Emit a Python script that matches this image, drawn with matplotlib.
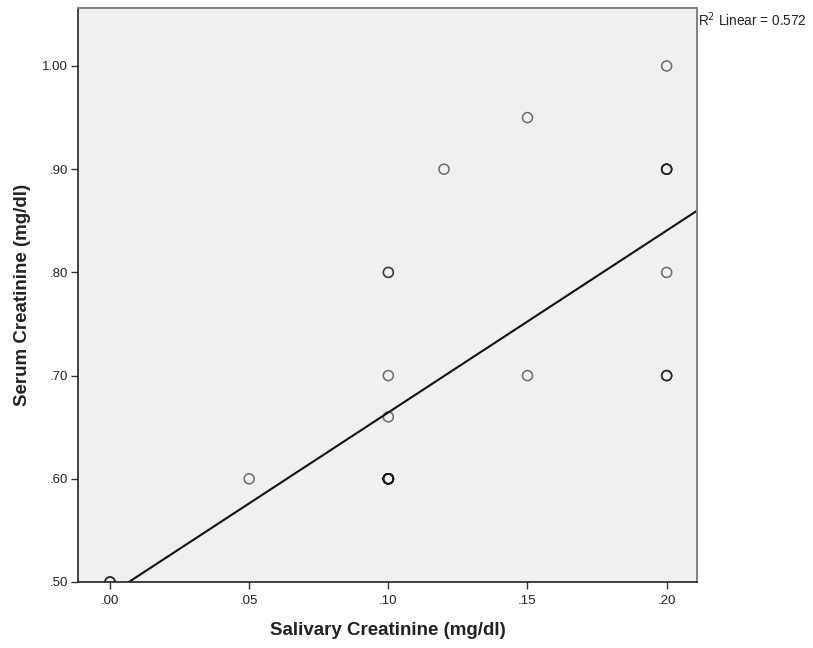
import numpy as np
import matplotlib
matplotlib.use("Agg")
import matplotlib.pyplot as plt
from matplotlib.ticker import FuncFormatter

plt.rcParams['font.family'] = ['Liberation Sans', 'DejaVu Sans']

# Data (x = salivary creatinine, y = serum creatinine, count = overlapping cases)
salivary = [0.00, 0.05, 0.10, 0.10, 0.10, 0.10, 0.12, 0.15, 0.15, 0.20, 0.20, 0.20, 0.20]
serum    = [0.50, 0.60, 0.60, 0.66, 0.70, 0.80, 0.90, 0.95, 0.70, 1.00, 0.90, 0.80, 0.70]
counts   = [3,    1,    10,   1,    1,    2,    1,    1,    1,    1,    4,    1,    3]

x_all = np.repeat(salivary, counts)
y_all = np.repeat(serum, counts)
slope, intercept = np.polyfit(x_all, y_all, 1)
r2 = np.corrcoef(x_all, y_all)[0, 1] ** 2

fig = plt.figure(figsize=(8.13, 6.48), dpi=100)
ax = fig.add_axes([78/813, 1-582/648, (697-78)/813, (582-8)/648])
ax.set_facecolor('#F0F0F0')

xlim = (-0.0115, 0.2109)
ylim = (0.50, 1.0562)
ax.set_xlim(*xlim)
ax.set_ylim(*ylim)

# overlapping cases drawn on top of each other -> darker rings
ax.scatter(x_all, y_all, s=52, facecolors='none', edgecolors=(0.1, 0.1, 0.1, 0.62),
           linewidths=1.1, zorder=3)

xs = np.array(xlim)
ax.plot(xs, intercept + slope * xs, color='#111111', lw=1.5, zorder=2)

fmt = FuncFormatter(lambda v, p: f"{v:.2f}".replace("0.", ".", 1) if v < 1 else f"{v:.2f}")
ax.set_xticks([0.00, 0.05, 0.10, 0.15, 0.20])
ax.set_yticks([0.50, 0.60, 0.70, 0.80, 0.90, 1.00])
ax.xaxis.set_major_formatter(fmt)
ax.yaxis.set_major_formatter(fmt)
ax.tick_params(direction='out', length=5, width=1.0, color='#333333',
               labelsize=9.5, labelcolor='#222222')
ax.tick_params(axis='x', pad=4)
ax.tick_params(axis='y', pad=2)

for side in ['left', 'bottom']:
    ax.spines[side].set_color('#222222')
    ax.spines[side].set_linewidth(1.2)
for side in ['top', 'right']:
    ax.spines[side].set_color('#808080')
    ax.spines[side].set_linewidth(1.4)

ax.set_xlabel('Salivary Creatinine (mg/dl)', fontsize=13.5, fontweight='bold',
              color='#222222')
ax.set_ylabel('Serum Creatinine (mg/dl)', fontsize=13.5, fontweight='bold',
              color='#222222')
ax.xaxis.set_label_coords(0.5, (582-622)/574)
ax.yaxis.set_label_coords((31-78)/619, 0.5)

fig.text(698/813, 1-20/648, f"R$^2$ Linear = {r2:.3f}", fontsize=9.8,
         color='#222222', ha='left', va='center')

fig.savefig('out.png', dpi=100, facecolor='white')
